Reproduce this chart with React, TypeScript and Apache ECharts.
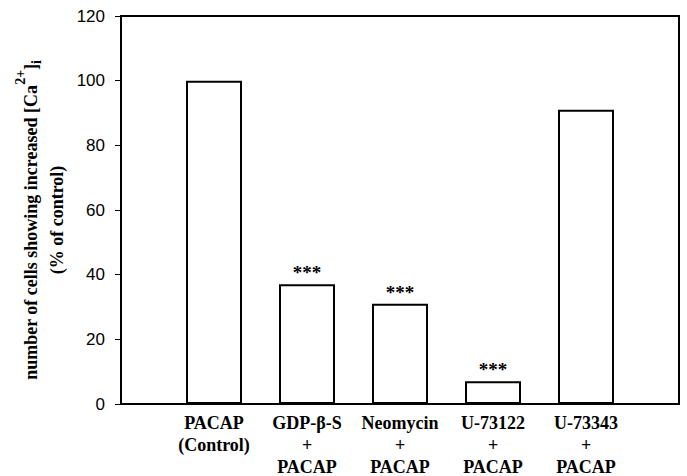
import React, { useEffect, useRef } from "react";
import * as echarts from "echarts";

const categories = [
  "",
  "PACAP\n(Control)",
  "GDP-β-S\n+\nPACAP",
  "Neomycin\n+\nPACAP",
  "U-73122\n+\nPACAP",
  "U-73343\n+\nPACAP",
  "",
];
const values: (number | null)[] = [null, 100, 37, 31, 7, 91, null];
const significance = ["", "", "***", "***", "***", "", ""];
const yTicks = { min: 0, max: 120, interval: 20 };

const SERIF = "'Liberation Serif', 'Times New Roman', serif";
const SANS = "'Liberation Sans', Arial, sans-serif";

export default function App() {
  const ref = useRef<HTMLDivElement>(null);
  useEffect(() => {
    if (!ref.current) return;
    const chart = echarts.init(ref.current, null, { renderer: "svg" });
    chart.setOption({
      animation: false,
      backgroundColor: "#ffffff",
      grid: {
        left: 121,
        right: 8,
        top: 16,
        bottom: 72,
        containLabel: false,
        outerBoundsMode: "none",
        show: true,
        borderColor: "#000",
        borderWidth: 2,
        backgroundColor: "transparent",
      },
      xAxis: {
        type: "category",
        data: categories,
        boundaryGap: false,
        axisLine: { show: true, lineStyle: { color: "#000", width: 2 } },
        axisTick: { show: false },
        splitLine: { show: false },
        axisLabel: {
          interval: 0,
          color: "#000",
          fontFamily: SERIF,
          fontWeight: "bold",
          fontSize: 18,
          lineHeight: 22,
          margin: 8,
        },
      },
      yAxis: {
        type: "value",
        min: yTicks.min,
        max: yTicks.max,
        interval: yTicks.interval,
        axisLine: { show: true, lineStyle: { color: "#000", width: 2 } },
        axisTick: { show: true, inside: false, length: 6, lineStyle: { color: "#000", width: 1 } },
        splitLine: { show: false },
        axisLabel: {
          color: "#000",
          fontFamily: SANS,
          fontSize: 17,
          margin: 16,
        },
        name:
          "{a|number of cells showing increased [Ca}{sup|2+}{a|]}{sub|i}\n{a|(% of control)}",
        nameLocation: "middle",
        nameRotate: 90,
        nameGap: 51,
        nameTextStyle: {
          color: "#000",
          fontFamily: SERIF,
          fontWeight: "bold",
          fontSize: 18,
          lineHeight: 26,
          padding: [0, 20, 0, 0],
          rich: {
            a: {
              color: "#000",
              fontFamily: SERIF,
              fontWeight: "bold",
              fontSize: 18,
              lineHeight: 26,
              verticalAlign: "bottom",
            },
            sup: {
              color: "#000",
              fontFamily: SERIF,
              fontWeight: "bold",
              fontSize: 14,
              lineHeight: 14,
              verticalAlign: "top",
            },
            sub: {
              color: "#000",
              fontFamily: SERIF,
              fontWeight: "bold",
              fontSize: 14,
              lineHeight: 14,
              verticalAlign: "bottom",
              padding: [0, 0, -4, 0],
            },
          },
        },
      },
      series: [
        {
          type: "bar",
          data: values,
          barWidth: 56,
          itemStyle: { color: "#fff", borderColor: "#000", borderWidth: 2 },
          label: {
            show: true,
            position: "top",
            distance: 2,
            color: "#000",
            fontFamily: SERIF,
            fontWeight: "bold",
            fontSize: 19,
            formatter: (p: any) => significance[p.dataIndex] || "",
          },
        },
      ],
    });
    return () => chart.dispose();
  }, []);
  return (
    <div
      ref={ref}
      style={{ position: "fixed", left: 0, top: 0, width: 687, height: 476, background: "#fff" }}
    />
  );
}
